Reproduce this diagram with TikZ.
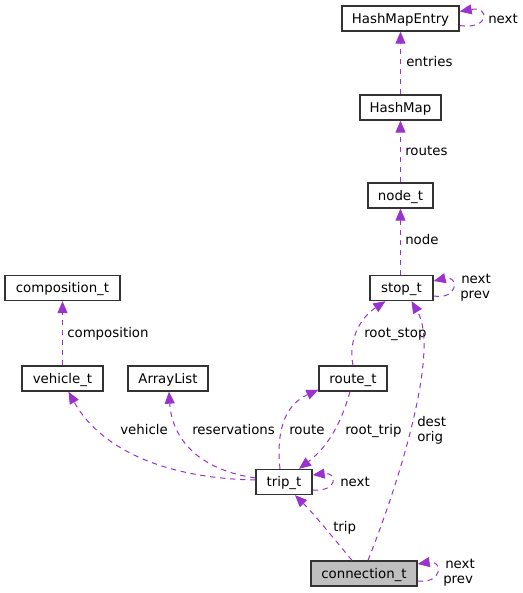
\documentclass[tikz,border=0pt]{standalone}
\usepackage{fontspec}
\setmainfont{DejaVu Sans}
\usetikzlibrary{arrows.meta,calc}
\definecolor{purp}{HTML}{9A32CD}
\definecolor{bord}{HTML}{333333}
\definecolor{cfill}{HTML}{BFBFBF}
\begin{document}
\begin{tikzpicture}[x=0.75pt,y=-0.75pt,
  cls/.style={draw=bord, line width=1pt, fill=white, inner sep=0pt,
    font=\fontsize{10pt}{12pt}\selectfont, text height=7.3pt, text depth=0pt,
    minimum height=18.75pt},
  edge/.style={draw=purp, line width=0.75pt, dash pattern=on 4pt off 3.5pt,
    -{Triangle[length=9pt,width=7.5pt,fill=purp]}},
  lbl/.style={font=\fontsize{10pt}{12pt}\selectfont, anchor=west, inner sep=0pt,
    text height=7.3pt, text depth=0pt}]
\useasboundingbox (0,0) rectangle (523,593);
% nodes
\node[cls, minimum width=117*0.75pt] (hme) at (400.5,18.5) {HashMapEntry};
\node[cls, minimum width=81*0.75pt] (hm) at (400.5,107.5) {HashMap};
\node[cls, minimum width=65*0.75pt] (nt) at (400.5,195.5) {node\_t};
\node[cls, minimum width=63*0.75pt] (st) at (401.5,288) {stop\_t};
\node[cls, minimum width=115*0.75pt] (comp) at (62.5,288) {composition\_t};
\node[cls, minimum width=81*0.75pt] (veh) at (62.5,378.5) {vehicle\_t};
\node[cls, minimum width=80*0.75pt] (al) at (168,378.5) {ArrayList};
\node[cls, minimum width=68*0.75pt] (rt) at (353,378.5) {route\_t};
\node[cls, minimum width=56*0.75pt] (trip) at (284,482) {trip\_t};
\node[cls, minimum width=106*0.75pt, fill=cfill] (conn) at (364,573.5) {connection\_t};
% edges
\draw[edge] (hm.north) -- (hme.south);
\node[lbl] (l1) at (406,62) {entries};
\draw[edge] ($(hme.east)+(0,7)$) .. controls (490,30) and (490,6) .. ($(hme.east)+(0,-7)$);
\node[lbl] (l2) at (488,18.5) {next};
\draw[edge] (nt.north) -- (hm.south);
\node[lbl] (l3) at (405,151) {routes};
\draw[edge] (st.north -| nt.south) -- (nt.south);
\node[lbl] (l4) at (405,240) {node};
\draw[edge] ($(st.east)+(0,8)$) .. controls (459,300) and (459,275) .. ($(st.east)+(0,-7)$);
\node[lbl] (l5) at (461,279) {next};
\node[lbl] (l6) at (460,294) {prev};
\draw[edge] (veh.north) -- (comp.south);
\node[lbl] (l7) at (67,333) {composition};
\draw[edge] (rt.north) .. controls (348,340) and (360,318) .. ($(st.south)+(-16,0)$);
\node[lbl] (l8) at (364,333) {root\_stop};
\draw[edge] ($(conn.north)+(4,0)$) .. controls (400,480) and (440,350) .. ($(st.south)+(10,0)$);
\node[lbl] (l9) at (417,422) {dest};
\node[lbl] (l10) at (417,437) {orig};
\draw[edge] ($(trip.west)+(0,-2)$) .. controls (150,478) and (95,440) .. ($(veh.south)+(6,0)$);
\node[lbl] (l11) at (120,430) {vehicle};
\draw[edge] ($(trip.west)+(0,-4)$) .. controls (200,470) and (172,440) .. ($(al.south)+(1,0)$);
\node[lbl] (l12) at (192,430) {reservations};
\draw[edge] ($(trip.north)+(-4,0)$) .. controls (276,430) and (285,405) .. ($(rt.south west)+(0,-2)$);
\node[lbl] (l13) at (289,430) {route};
\draw[edge] ($(rt.south)+(-3,0)$) .. controls (342,420) and (330,445) .. ($(trip.north)+(15,0)$);
\node[lbl] (l14) at (345,430) {root\_trip};
\draw[edge] ($(trip.east)+(0,8)$) .. controls (338,492) and (338,472) .. ($(trip.east)+(0,-7)$);
\node[lbl] (l15) at (340,482) {next};
\draw[edge] ($(conn.north)+(-12,0)$) .. controls (335,540) and (315,515) .. ($(trip.south)+(11,0)$);
\node[lbl] (l16) at (333,527) {trip};
\draw[edge] ($(conn.east)+(0,7.5)$) .. controls (443,584) and (443,560) .. ($(conn.east)+(0,-9.5)$);
\node[lbl] (l17) at (445,564) {next};
\node[lbl] (l18) at (443,579) {prev};
\end{tikzpicture}
\end{document}
